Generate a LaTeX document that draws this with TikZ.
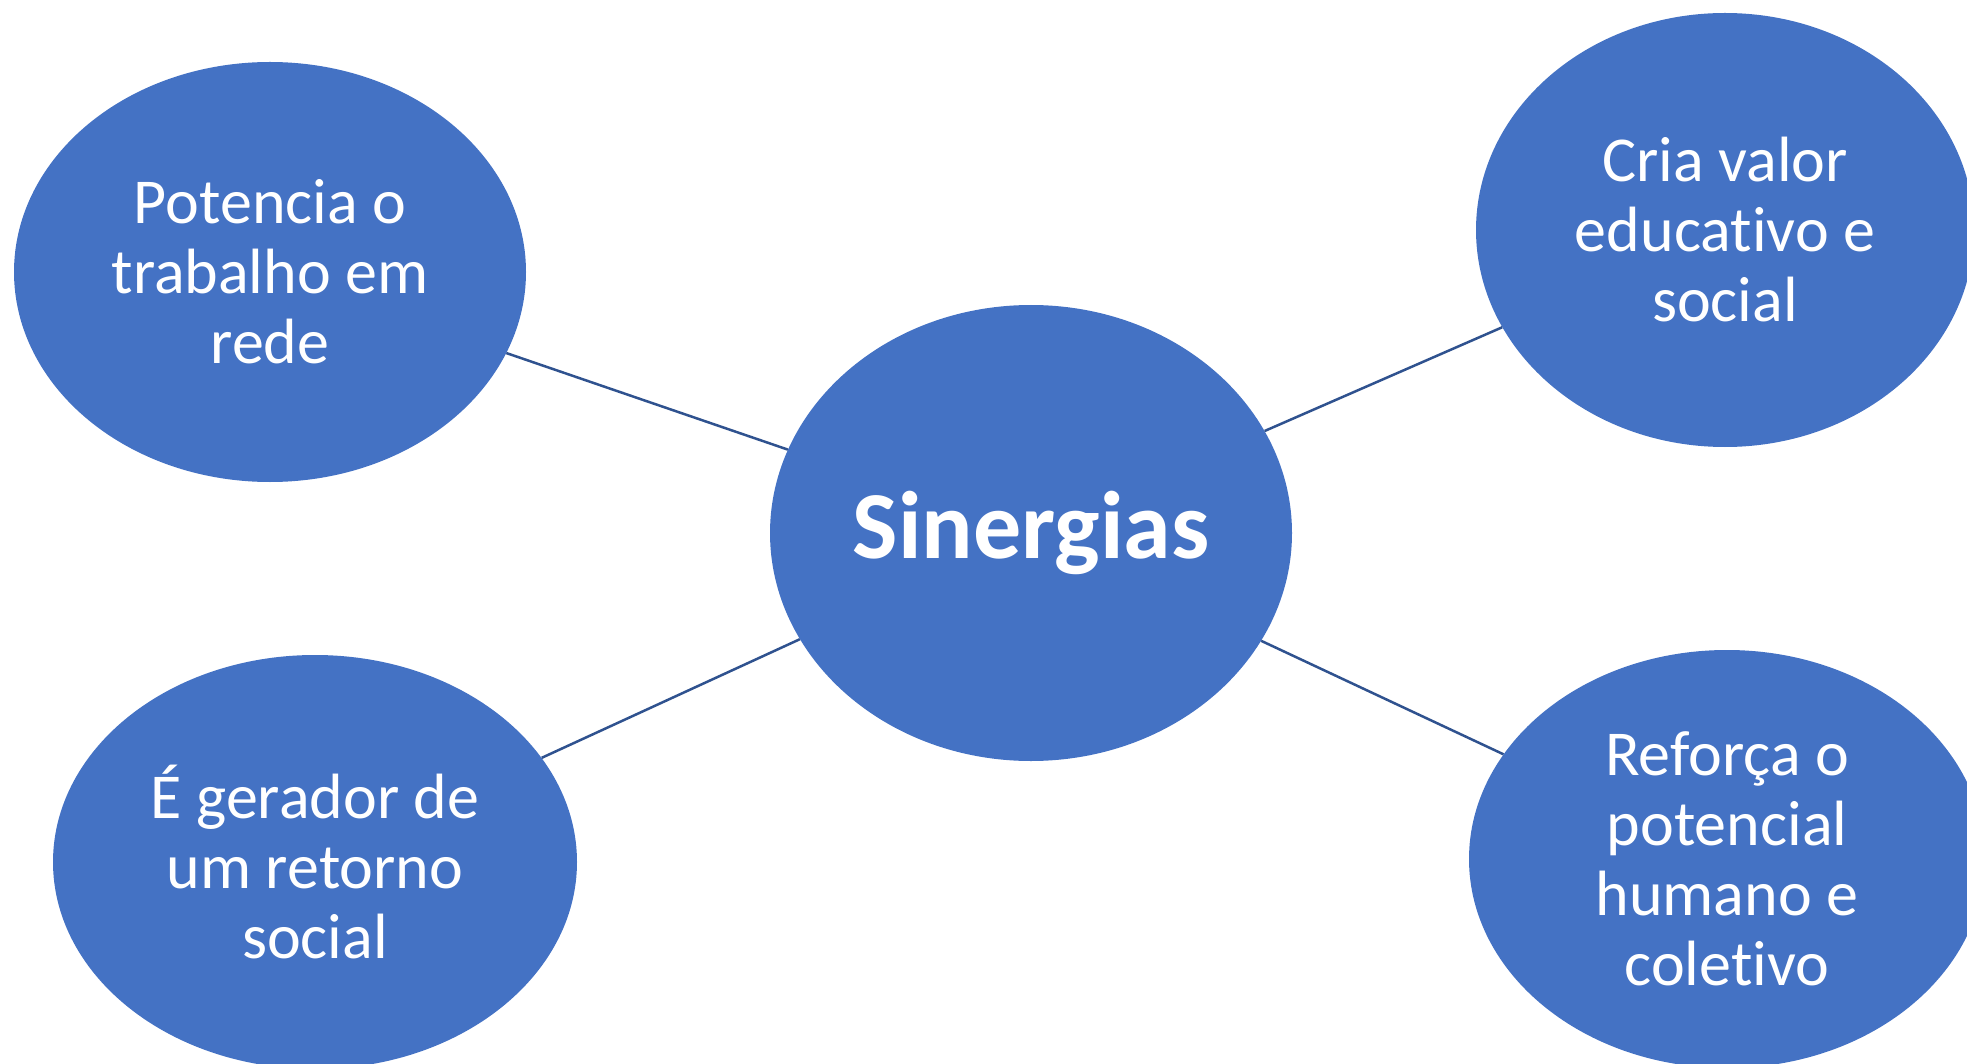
\documentclass[tikz,border=0pt]{standalone}
\usepackage{fontspec}
\setmainfont{Carlito}[Ligatures=NoCommon]
\usepackage{xcolor}
\usetikzlibrary{shapes.geometric}
\definecolor{ovalblue}{HTML}{4472C4}
\definecolor{linkblue}{HTML}{2F528F}

\begin{document}
\begin{tikzpicture}[x=1pt, y=-1pt,
  every node/.style={ellipse, fill=ovalblue, text=white, inner sep=0pt, align=center},
  idea/.style={font=\fontsize{64}{70}\selectfont},
  link/.style={draw=linkblue, line width=2.5pt}]
\clip (0,0) rectangle (1967,1064);
% centre
\node[minimum width=522pt, minimum height=456pt, font=\fontsize{96}{110}\selectfont\bfseries] (hub) at (1031,533) {Sinergias};
% around it
\node[idea, minimum width=512pt, minimum height=420pt] (rede) at (270,272) {Potencia o\\trabalho em\\rede};
\node[idea, minimum width=498pt, minimum height=434pt] (valor) at (1725,230) {Cria valor\\educativo e\\social};
\node[idea, minimum width=524pt, minimum height=414pt] (retorno) at (315,862) {É gerador de\\um retorno\\social};
\node[idea, minimum width=516pt, minimum height=418pt] (potencial) at (1727,859) {Reforça o\\potencial\\humano e\\coletivo};
\draw[link] (rede) -- (hub);
\draw[link] (valor) -- (hub);
\draw[link] (retorno) -- (hub);
\draw[link] (potencial) -- (hub);
\end{tikzpicture}
\end{document}
